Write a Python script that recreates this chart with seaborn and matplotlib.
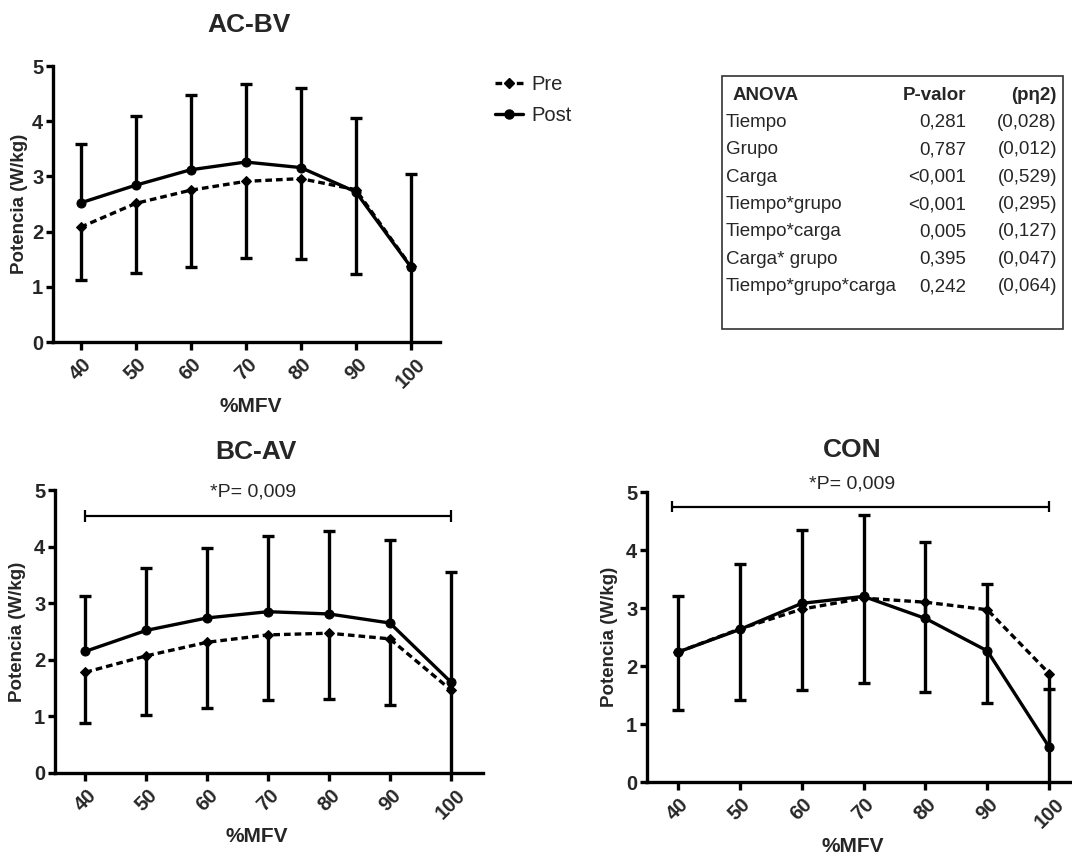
import numpy as np
import pandas as pd
import matplotlib
matplotlib.use("Agg")
import matplotlib.pyplot as plt
from matplotlib.lines import Line2D
from matplotlib.patches import Rectangle
import seaborn as sns

# ---------------- data ----------------
loads = [40, 50, 60, 70, 80, 90, 100]
load_labels = ["40", "50", "60", "70", "80", "90", "100"]

acbv_pre = [2.08, 2.51, 2.75, 2.91, 2.96, 2.76, 1.37]
acbv_pre_sd = [0.95, 1.26, 1.39, 1.38, 1.46, 1.52, 1.60]
acbv_post = [2.52, 2.84, 3.12, 3.26, 3.16, 2.72, 1.36]
acbv_post_sd = [1.06, 1.25, 1.36, 1.41, 1.44, 1.34, 1.69]

bcav_pre = [1.78, 2.07, 2.31, 2.44, 2.47, 2.37, 1.47]
bcav_pre_sd = [0.90, 1.05, 1.16, 1.15, 1.17, 1.17, 1.60]
bcav_post = [2.15, 2.52, 2.74, 2.85, 2.81, 2.65, 1.61]
bcav_post_sd = [0.97, 1.10, 1.23, 1.34, 1.47, 1.46, 1.94]

con_pre = [2.24, 2.64, 2.98, 3.17, 3.10, 2.97, 1.87]
con_pre_sd = [1.00, 1.23, 1.40, 1.46, 1.54, 1.60, 2.10]
con_post = [2.24, 2.63, 3.08, 3.20, 2.82, 2.26, 0.60]
con_post_sd = [0.97, 1.13, 1.27, 1.41, 1.32, 1.16, 1.00]

panel_titles = ["AC-BV", "BC-AV", "CON"]
series_names = ["Pre", "Post"]
sig_label = "*P= 0,009"
bcav_sig_y = 4.54
con_sig_y = 4.75

anova_header = ["ANOVA", "P-valor", "(p\u03b72)"]
anova_effects = ["Tiempo", "Grupo", "Carga", "Tiempo*grupo", "Tiempo*carga",
                 "Carga* grupo", "Tiempo*grupo*carga"]
anova_p = ["0,281", "0,787", "<0,001", "<0,001", "0,005", "0,395", "0,242"]
anova_eta = ["(0,028)", "(0,012)", "(0,529)", "(0,295)", "(0,127)", "(0,047)", "(0,064)"]

# ---------------- style ----------------
sns.set_style("ticks")
plt.rcParams['font.family'] = ['Liberation Sans', 'DejaVu Sans']

W, H = 1072, 856
fig = plt.figure(figsize=(W / 100, H / 100), dpi=100)


def px_axes(left, top, right, bottom):
    return fig.add_axes([left / W, 1 - bottom / H, (right - left) / W, (bottom - top) / H])


LW = 2.4
PRE_DASH = (0, (2.0, 1.2))


def draw_panel(ax, pre, pre_sd, post, post_sd):
    df = pd.DataFrame({"carga": loads, "Pre": pre, "Post": post})
    sns.lineplot(data=df, x="carga", y="Post", ax=ax, color="black", lw=LW,
                 marker="o", markersize=6.5, markeredgecolor="black", linestyle="-", zorder=4)
    sns.lineplot(data=df, x="carga", y="Pre", ax=ax, color="black", lw=LW,
                 marker="D", markersize=5, markeredgecolor="black", linestyle=PRE_DASH, zorder=3)
    hi = np.array(post) + np.array(post_sd)
    lo = np.array(pre) - np.array(pre_sd)
    ax.vlines(loads, post, hi, color="black", lw=LW, zorder=2)
    ax.vlines(loads, lo, pre, color="black", lw=LW, zorder=2)
    ax.plot(loads, hi, ls="none", marker="_", ms=9, mew=LW, color="black", zorder=2)
    ax.plot(loads, lo, ls="none", marker="_", ms=9, mew=LW, color="black", zorder=2)

    ax.set_xlim(35, 105.3)
    ax.set_ylim(0, 5)
    ax.set_xticks(loads)
    ax.set_xticklabels(load_labels, rotation=45, fontsize=14.5, fontweight="bold")
    ax.set_yticks([0, 1, 2, 3, 4, 5])
    ax.set_yticklabels(["0", "1", "2", "3", "4", "5"], fontsize=14.5, fontweight="bold")
    ax.tick_params(axis="both", width=LW, length=5, color="black", pad=2)
    ax.tick_params(axis="x", length=6, pad=3)
    for s in ["left", "bottom"]:
        ax.spines[s].set_linewidth(LW)
        ax.spines[s].set_color("black")
    sns.despine(ax=ax)
    ax.set_xlabel("%MFV", fontsize=15, fontweight="bold")
    ax.set_ylabel("Potencia (W/kg)", fontsize=13.5, fontweight="bold")


# panel 1: AC-BV
ax1 = px_axes(53, 66, 440, 342)
draw_panel(ax1, acbv_pre, acbv_pre_sd, acbv_post, acbv_post_sd)
ax1.xaxis.set_label_coords(0.512, -0.2)
ax1.yaxis.set_label_coords(-0.065, 0.5)

# panel 2: BC-AV
ax2 = px_axes(55, 490, 483, 773)
draw_panel(ax2, bcav_pre, bcav_pre_sd, bcav_post, bcav_post_sd)
ax2.xaxis.set_label_coords(0.472, -0.19)
ax2.yaxis.set_label_coords(-0.068, 0.5)
ax2.plot([loads[0], loads[-1]], [bcav_sig_y, bcav_sig_y], color="black", lw=1.6)
ax2.vlines([loads[0], loads[-1]], bcav_sig_y - 0.1, bcav_sig_y + 0.1, color="black", lw=1.6)
ax2.text(67.5, 4.97, sig_label, ha="center", va="center", fontsize=14)

# panel 3: CON
ax3 = px_axes(647, 492, 1082, 782)
draw_panel(ax3, con_pre, con_pre_sd, con_post, con_post_sd)
ax3.xaxis.set_label_coords(0.472, -0.19)
ax3.yaxis.set_label_coords(-0.066, 0.5)
ax3.plot([39, loads[-1]], [con_sig_y, con_sig_y], color="black", lw=1.6, clip_on=False)
ax3.vlines([39, loads[-1]], con_sig_y - 0.1, con_sig_y + 0.1, color="black", lw=1.6, clip_on=False)
ax3.text(68.2, 5.13, sig_label, ha="center", va="center", fontsize=14, clip_on=False)

# titles
fig.text(249 / W, 1 - 25 / H, panel_titles[0], ha="center", va="center", fontsize=19, fontweight="bold")
fig.text(256 / W, 1 - 452 / H, panel_titles[1], ha="center", va="center", fontsize=19, fontweight="bold")
fig.text(852 / W, 1 - 450 / H, panel_titles[2], ha="center", va="center", fontsize=19, fontweight="bold")

# legend
handles = [
    Line2D([], [], color="black", lw=LW, ls=PRE_DASH, marker="D", ms=5),
    Line2D([], [], color="black", lw=LW, ls="-", marker="o", ms=6.5),
]
fig.legend(handles, series_names, loc="upper left", bbox_to_anchor=(495 / W, 1 - 75 / H),
           frameon=False, fontsize=14.5, handlelength=1.4, handletextpad=0.4,
           labelspacing=0.62, borderpad=0, borderaxespad=0)

# ANOVA table
fig.patches.append(Rectangle((722 / W, 1 - 329 / H), (1063 - 722) / W, (329 - 76) / H,
                             transform=fig.transFigure, fill=False, edgecolor="#333333", lw=1.2))
y0 = 95
TFS = 13.5
fig.text(733 / W, 1 - y0 / H, anova_header[0], ha="left", va="center", fontsize=TFS, fontweight="bold")
fig.text(966 / W, 1 - y0 / H, anova_header[1], ha="right", va="center", fontsize=TFS, fontweight="bold")
fig.text(1056 / W, 1 - y0 / H, anova_header[2], ha="right", va="center", fontsize=TFS, fontweight="bold")
for i, (eff, p, eta) in enumerate(zip(anova_effects, anova_p, anova_eta)):
    yy = 1 - (y0 + 27.4 * (i + 1)) / H
    fig.text(726 / W, yy, eff, ha="left", va="center", fontsize=TFS)
    fig.text(966 / W, yy, p, ha="right", va="center", fontsize=TFS)
    fig.text(1057 / W, yy, eta, ha="right", va="center", fontsize=TFS)

fig.savefig("out.png", dpi=100)
